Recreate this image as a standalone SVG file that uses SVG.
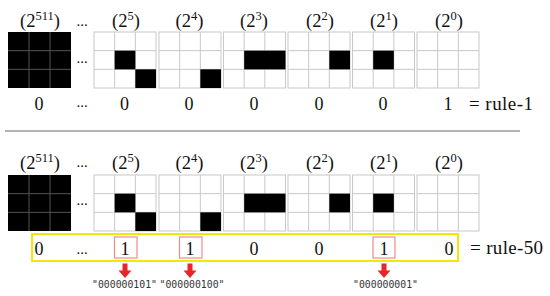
<svg xmlns="http://www.w3.org/2000/svg" xmlns:xlink="http://www.w3.org/1999/xlink" width="550" height="296" viewBox="0 0 550 296">
<style>
.t{font-family:"Liberation Serif",serif;fill:#111;text-anchor:middle}
.lbl{font-size:18.5px}
.sup{font-size:12.5px}
.num{font-size:18px}
.dots{font-size:15px}
.rule{font-size:19px;text-anchor:start}
.code{font-family:"DejaVu Sans Mono","Liberation Mono",monospace;font-size:9.8px;fill:#333;text-anchor:middle}
.grid{fill:#fff;stroke:#c8c8c8;stroke-width:1}
.gl{stroke:#c8c8c8;stroke-width:1}
.blk{fill:#000}
.bgl{stroke:#555;stroke-width:1}
.yel{fill:none;stroke:#f5e50a;stroke-width:2}
.red{fill:none;stroke:#f08c8c;stroke-width:1.2}
.arr{fill:#e8262a}
</style>
<defs>
<g id="empty">
<rect class="grid" x="0" y="0" width="62" height="56"/>
<path class="gl" d="M20.67,0V56M41.33,0V56M0,18.67H62M0,37.33H62"/>
</g>
<g id="full">
<rect class="blk" x="0" y="0" width="63" height="56"/>
<path class="bgl" d="M21,0V56M42,0V56M0,18.67H63M0,37.33H63"/>
</g>
<path id="arrow" d="M-2.5,0H2.5V7H6.5L0,14.5L-6.5,7H-2.5Z"/>
</defs>

<!-- TOP: rule-1 -->
<g id="top-511">
<text class="t lbl" x="40" y="27">(2<tspan class="sup" dy="-7">511</tspan><tspan dy="7">)</tspan></text>
<use xlink:href="#full" x="8" y="32"/>
<text class="t num" x="39" y="110">0</text>
</g>
<g id="top-dots">
<text class="t dots" x="82" y="25.5">...</text>
<text class="t dots" x="82" y="62.5">...</text>
<text class="t dots" x="82" y="106.5">...</text>
</g>
<g id="top-5">
<text class="t lbl" x="126" y="27">(2<tspan class="sup" dy="-7">5</tspan><tspan dy="7">)</tspan></text>
<use xlink:href="#empty" x="94" y="32"/>
<rect class="blk" x="114.67" y="50.67" width="20.67" height="18.67"/>
<rect class="blk" x="135.33" y="69.33" width="20.67" height="18.67"/>
<text class="t num" x="124.5" y="110">0</text>
</g>
<g id="top-4">
<text class="t lbl" x="189.5" y="27">(2<tspan class="sup" dy="-7">4</tspan><tspan dy="7">)</tspan></text>
<use xlink:href="#empty" x="159" y="32"/>
<rect class="blk" x="200.33" y="69.33" width="20.67" height="18.67"/>
<text class="t num" x="189" y="110">0</text>
</g>
<g id="top-3">
<text class="t lbl" x="254" y="27">(2<tspan class="sup" dy="-7">3</tspan><tspan dy="7">)</tspan></text>
<use xlink:href="#empty" x="223.5" y="32"/>
<rect class="blk" x="244.17" y="50.67" width="41.33" height="18.67"/>
<text class="t num" x="254" y="110">0</text>
</g>
<g id="top-2">
<text class="t lbl" x="320" y="27">(2<tspan class="sup" dy="-7">2</tspan><tspan dy="7">)</tspan></text>
<use xlink:href="#empty" x="288" y="32"/>
<rect class="blk" x="329.33" y="50.67" width="20.67" height="18.67"/>
<text class="t num" x="319" y="110">0</text>
</g>
<g id="top-1">
<text class="t lbl" x="384" y="27">(2<tspan class="sup" dy="-7">1</tspan><tspan dy="7">)</tspan></text>
<use xlink:href="#empty" x="352.5" y="32"/>
<rect class="blk" x="373.17" y="50.67" width="20.67" height="18.67"/>
<text class="t num" x="383" y="110">0</text>
</g>
<g id="top-0">
<text class="t lbl" x="449" y="27">(2<tspan class="sup" dy="-7">0</tspan><tspan dy="7">)</tspan></text>
<use xlink:href="#empty" x="417" y="32"/>
<text class="t num" x="448" y="110">1</text>
</g>
<g id="rule-1">
<text class="t rule" x="469" y="110" textLength="64">= rule-1</text>
</g>

<line x1="5" y1="131" x2="520" y2="131" stroke="#9a9a9a" stroke-width="1.5"/>

<!-- BOTTOM: rule-50 -->
<g id="bot-511">
<text class="t lbl" x="40" y="169">(2<tspan class="sup" dy="-7">511</tspan><tspan dy="7">)</tspan></text>
<use xlink:href="#full" x="8" y="175"/>
<text class="t num" x="39" y="255">0</text>
</g>
<g id="bot-dots">
<text class="t dots" x="82" y="166.5">...</text>
<text class="t dots" x="82" y="204.5">...</text>
<text class="t dots" x="82" y="253.5">...</text>
</g>
<g id="bot-5">
<text class="t lbl" x="126" y="169">(2<tspan class="sup" dy="-7">5</tspan><tspan dy="7">)</tspan></text>
<use xlink:href="#empty" x="94" y="175"/>
<rect class="blk" x="114.67" y="193.67" width="20.67" height="18.67"/>
<rect class="blk" x="135.33" y="212.33" width="20.67" height="18.67"/>
<rect class="red" x="114.5" y="237" width="22.5" height="21"/>
<text class="t num" x="125" y="255">1</text>
</g>
<g id="bot-4">
<text class="t lbl" x="189.5" y="169">(2<tspan class="sup" dy="-7">4</tspan><tspan dy="7">)</tspan></text>
<use xlink:href="#empty" x="159" y="175"/>
<rect class="blk" x="200.33" y="212.33" width="20.67" height="18.67"/>
<rect class="red" x="179.5" y="237" width="22.5" height="21"/>
<text class="t num" x="190" y="255">1</text>
</g>
<g id="bot-3">
<text class="t lbl" x="254" y="169">(2<tspan class="sup" dy="-7">3</tspan><tspan dy="7">)</tspan></text>
<use xlink:href="#empty" x="223.5" y="175"/>
<rect class="blk" x="244.17" y="193.67" width="41.33" height="18.67"/>
<text class="t num" x="254" y="255">0</text>
</g>
<g id="bot-2">
<text class="t lbl" x="320" y="169">(2<tspan class="sup" dy="-7">2</tspan><tspan dy="7">)</tspan></text>
<use xlink:href="#empty" x="288" y="175"/>
<rect class="blk" x="329.33" y="193.67" width="20.67" height="18.67"/>
<text class="t num" x="319" y="255">0</text>
</g>
<g id="bot-1">
<text class="t lbl" x="384" y="169">(2<tspan class="sup" dy="-7">1</tspan><tspan dy="7">)</tspan></text>
<use xlink:href="#empty" x="352.5" y="175"/>
<rect class="blk" x="373.17" y="193.67" width="20.67" height="18.67"/>
<rect class="red" x="373" y="237" width="22" height="21"/>
<text class="t num" x="384" y="255">1</text>
</g>
<g id="bot-0">
<text class="t lbl" x="449" y="169">(2<tspan class="sup" dy="-7">0</tspan><tspan dy="7">)</tspan></text>
<use xlink:href="#empty" x="417" y="175"/>
<text class="t num" x="449" y="255">0</text>
</g>
<g id="rule-50">
<rect class="yel" x="32" y="234" width="426" height="27"/>
<text class="t rule" x="470" y="254" textLength="73">= rule-50</text>
</g>

<g id="connectors">
<use xlink:href="#arrow" class="arr" x="125" y="263.5"/>
<use xlink:href="#arrow" class="arr" x="190" y="263.5"/>
<use xlink:href="#arrow" class="arr" x="384" y="263.5"/>
</g>
<g id="codes">
<text class="code" x="124.5" y="288">"000000101"</text>
<text class="code" x="192" y="288">"000000100"</text>
<text class="code" x="385.5" y="288">"000000001"</text>
</g>
</svg>
